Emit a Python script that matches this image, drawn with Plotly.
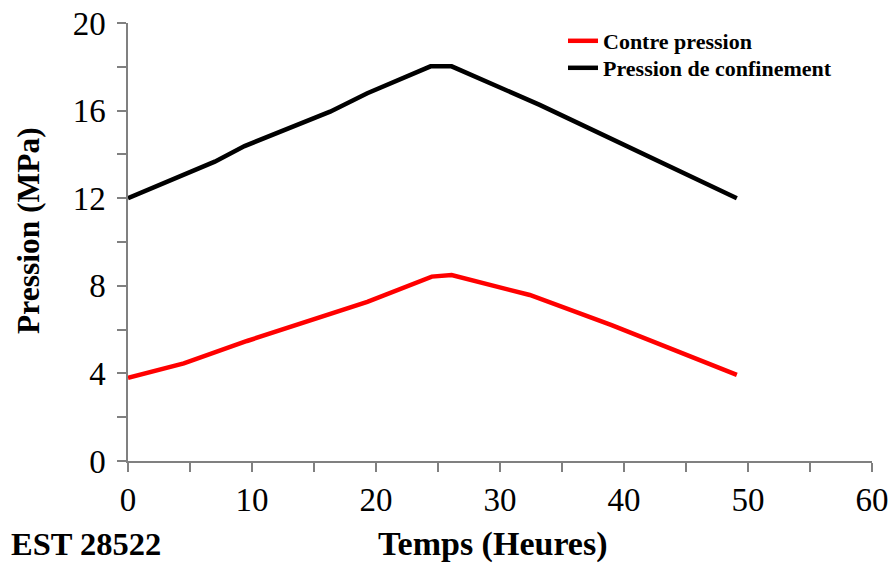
import plotly.graph_objects as go

# Data
temps_contre = [0, 4.5, 9.6, 16.6, 19.3, 24.5, 26.1, 32.4, 35.9, 39.0, 49.1]
contre_pression = [3.8, 4.46, 5.48, 6.74, 7.27, 8.42, 8.49, 7.58, 6.82, 6.2, 3.93]

temps_conf = [0, 7.0, 9.4, 16.3, 19.3, 24.4, 26.1, 33.2, 49.1]
pression_conf = [12.0, 13.67, 14.38, 15.95, 16.79, 18.02, 18.02, 16.26, 12.0]

x_ticks = [0, 10, 20, 30, 40, 50, 60]
y_ticks = [0, 4, 8, 12, 16, 20]

serif = "Liberation Serif, Times New Roman, serif"
axis_col = "#808080"

W, H = 889, 563
L, T = 128, 23
R = W - 872
B = H - 461
pw, ph = W - L - R, H - T - B


def px_x(p):
    """window pixel -> paper x"""
    return (p - L) / pw


def px_y(p):
    """window pixel -> paper y"""
    return (H - B - p) / ph


fig = go.Figure()
fig.add_trace(go.Scatter(x=temps_contre, y=contre_pression, mode="lines",
                         name="<b>Contre pression</b>", legend="legend",
                         line=dict(color="#ff0000", width=4.5)))
fig.add_trace(go.Scatter(x=temps_conf, y=pression_conf, mode="lines",
                         name="<b>Pression de confinement</b>", legend="legend2",
                         line=dict(color="#000000", width=4.5)))

leg_common = dict(xanchor="left", yanchor="top",
                  font=dict(size=22, family=serif, color="black"),
                  bgcolor="rgba(0,0,0,0)", itemwidth=30)

fig.update_layout(
    width=W, height=H,
    margin=dict(l=L, r=R, t=T, b=B, autoexpand=False),
    paper_bgcolor="white", plot_bgcolor="white",
    font=dict(family=serif, color="black"),
    showlegend=True,
    legend=dict(x=px_x(563), y=px_y(20), **leg_common),
    legend2=dict(x=px_x(563), y=px_y(47), **leg_common),
    annotations=[
        dict(text="<b>EST 28522</b>", xref="paper", yref="paper",
             x=px_x(9), y=px_y(544), xanchor="left", yanchor="middle",
             showarrow=False, font=dict(size=32.5, family=serif, color="black")),
        dict(text="<b>Temps (Heures)</b>", xref="paper", yref="paper",
             x=px_x(493), y=px_y(544), xanchor="center", yanchor="middle",
             showarrow=False, font=dict(size=34, family=serif, color="black")),
        dict(text="<b>Pression (MPa)</b>", xref="paper", yref="paper",
             x=px_x(28), y=px_y(231), xanchor="center", yanchor="middle", textangle=-90,
             showarrow=False, font=dict(size=31.5, family=serif, color="black")),
    ],
)

fig.update_xaxes(range=[0, 60], tickvals=x_ticks, ticktext=[str(v) for v in x_ticks],
                 showline=True, linecolor=axis_col, linewidth=1.5,
                 ticks="outside", ticklen=9, tickcolor=axis_col, tickwidth=1.5,
                 minor=dict(ticks="outside", dtick=5, ticklen=9, tickcolor=axis_col, tickwidth=1.5),
                 showgrid=False, zeroline=False, automargin=False, ticklabeloverflow="allow",
                 tickfont=dict(size=33, family=serif, color="black"))
fig.update_yaxes(range=[0, 20], tickvals=y_ticks, ticktext=[str(v) for v in y_ticks],
                 showline=True, linecolor=axis_col, linewidth=1.5,
                 ticks="outside", ticklen=9, tickcolor=axis_col, tickwidth=1.5,
                 minor=dict(ticks="outside", dtick=2, ticklen=9, tickcolor=axis_col, tickwidth=1.5),
                 showgrid=False, zeroline=False, automargin=False, ticklabelstandoff=5,
                 ticklabeloverflow="allow",
                 tickfont=dict(size=33, family=serif, color="black"))

fig.write_html("out.html", config={"displayModeBar": False},
               post_script="document.body.style.margin='0';document.body.style.overflow='hidden';")
